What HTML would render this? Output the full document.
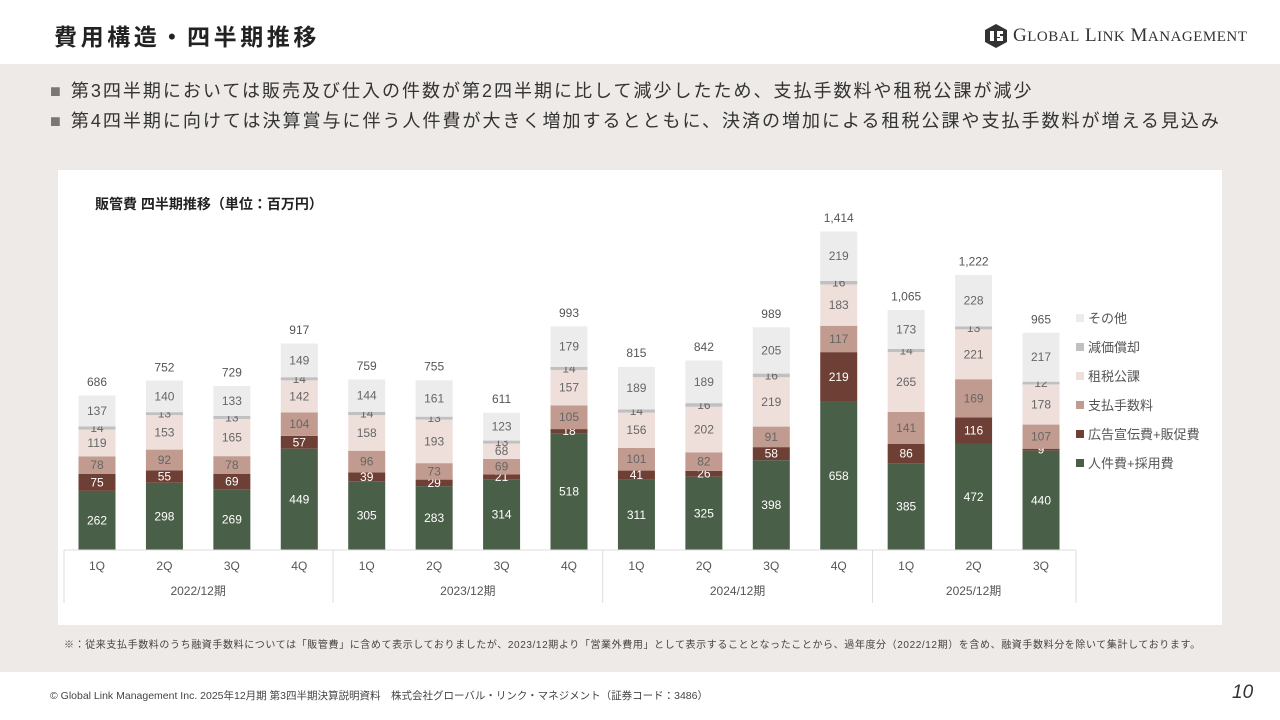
<!DOCTYPE html>
<html><head><meta charset="utf-8">
<style>
*{margin:0;padding:0;box-sizing:border-box}
body{width:1280px;height:720px;position:relative;background:#fff;font-family:"Liberation Sans","Noto Sans CJK JP",sans-serif;overflow:hidden}
.abs{position:absolute}
.bl{position:absolute;left:50px;font-size:18px;color:#333;letter-spacing:2px;white-space:nowrap}
.bl b{color:#777;font-weight:normal;margin-right:8px}
</style></head><body>
<div class="abs" style="left:54px;top:18px;font-size:23px;font-weight:bold;color:#222;letter-spacing:3.6px">費用構造・四半期推移</div>
<div class="abs" style="left:985px;top:24px;display:flex;align-items:center;gap:6px">
<svg width="22" height="24" viewBox="0 0 22 24"><polygon points="11,0 22,6 22,18 11,24 0,18 0,6" fill="#333"/><path d="M5 7h4v10h-4zM12 7h6v3h-3v2h3v5h-6v-3h3v-1h-3z" fill="#fff"/></svg>
<span style="font-family:'Liberation Serif',serif;font-size:19px;color:#333;letter-spacing:0.5px">G<span style="font-size:15px">LOBAL</span> L<span style="font-size:15px">INK</span> M<span style="font-size:15px">ANAGEMENT</span></span></div>
<div class="abs" style="left:0;top:64px;width:1280px;height:608px;background:#eeeae7"></div>
<div class="bl" style="top:77px"><b>■</b>第3四半期においては販売及び仕入の件数が第2四半期に比して減少したため、支払手数料や租税公課が減少</div>
<div class="bl" style="top:107px"><b>■</b>第4四半期に向けては決算賞与に伴う人件費が大きく増加するとともに、決済の増加による租税公課や支払手数料が増える見込み</div>
<div class="abs" style="left:58px;top:170px;width:1164px;height:455px;background:#fff"></div>
<div class="abs" style="left:95px;top:194px;font-size:14px;font-weight:bold;color:#222">販管費 四半期推移（単位：百万円）</div>
<svg class="abs" id="chart" style="left:0;top:0" width="1280" height="720"></svg>
<div class="abs" style="left:64px;top:636px;font-size:10px;letter-spacing:0.6px;color:#444;white-space:nowrap">※：従来支払手数料のうち融資手数料については「販管費」に含めて表示しておりましたが、2023/12期より「営業外費用」として表示することとなったことから、過年度分（2022/12期）を含め、融資手数料分を除いて集計しております。</div>
<div class="abs" style="left:50px;top:688px;font-size:10.5px;color:#444;white-space:nowrap">© Global Link Management Inc. 2025年12月期 第3四半期決算説明資料　株式会社グローバル・リンク・マネジメント（証券コード：3486）</div>
<div class="abs" style="left:1232px;top:682px;font-size:19px;font-style:italic;color:#333">10</div>
<script>
const quarters=["1Q","2Q","3Q","4Q","1Q","2Q","3Q","4Q","1Q","2Q","3Q","4Q","1Q","2Q","3Q"];
const years=["2022/12期","2023/12期","2024/12期","2025/12期"];
const labor=[262,298,269,449,305,283,314,518,311,325,398,658,385,472,440];
const ads=[75,55,69,57,39,29,21,18,41,26,58,219,86,116,9];
const fees=[78,92,78,104,96,73,69,105,101,82,91,117,141,169,107];
const taxes=[119,153,165,142,158,193,68,157,156,202,219,183,265,221,178];
const depr=[14,13,13,14,14,13,13,14,14,16,16,16,14,13,12];
const other=[137,140,133,149,144,161,123,179,189,189,205,219,173,228,217];
const totals=[686,752,729,917,759,755,611,993,815,842,989,1414,1065,1222,965];
const seriesNames=["人件費+採用費","広告宣伝費+販促費","支払手数料","租税公課","減価償却","その他"];
const NS="http://www.w3.org/2000/svg",svg=document.getElementById('chart');
const base=550,k=319/1414,x0=97,step=67.43,bw=37;
const y=v=>base-v*k, xc=i=>x0+i*step;
const series=[labor,ads,fees,taxes,depr,other];
const colors=["#4a5f48","#6e4035","#c19b8f","#eedfdb","#c0c0c0","#ececec"];
const tcol=["#fff","#fff","#666","#666","#666","#666"];
function el(t,a){const e=document.createElementNS(NS,t);for(const q in a)e.setAttribute(q,a[q]);svg.appendChild(e);return e;}
function txt(x,yy,s,c,sz,n){const e=el('text',{x:x,y:yy,'text-anchor':'middle','font-size':sz,fill:c,'font-family':'Liberation Sans, Noto Sans CJK JP, sans-serif'});e.textContent=s;return e;}
quarters.forEach((q,i)=>{let acc=0;
 series.forEach((s,j)=>{const v=s[i];
  const r=el('rect',{x:xc(i)-bw/2,y:y(acc+v),width:bw,height:v*k,fill:colors[j]});
  
  
  txt(xc(i),y(acc+v/2)+4,String(v),tcol[j],12,'segment-label');
  acc+=v;});
 txt(xc(i),y(totals[i])-9,totals[i].toLocaleString('en-US'),'#555',12,'total-label');
 txt(xc(i),570,q,'#555',12,'quarter-label');
});
const L=64,R=1076;
let ln=el('line',{x1:L,y1:550,x2:R,y2:550,stroke:'#ddd'});
[L,R].forEach(xx=>{const e=el('line',{x1:xx,y1:550,x2:xx,y2:603,stroke:'#ddd'});});
const groupSizes=[4,4,4,3];let gi=0;
years.forEach((yr,g)=>{const a=gi,b=gi+groupSizes[g]-1;gi+=groupSizes[g];
 const xr=b===14?R:(xc(b)+xc(b+1))/2;
 if(b!==14){const e=el('line',{x1:xr,y1:550,x2:xr,y2:603,stroke:'#ddd'});}
 txt((xc(a)+xc(b))/2,595,yr,'#555',12,'year-label');});
const leg=seriesNames.slice().reverse(),lc=colors.slice().reverse();
leg.forEach((n,i)=>{const yy=319+i*29;
 const r=el('rect',{x:1076,y:yy-5,width:8,height:8,fill:lc[i]});
 const t=txt(1088,yy+4,n,'#555',13,'legend-entry');t.setAttribute('text-anchor','start');});
</script>
</body></html>
